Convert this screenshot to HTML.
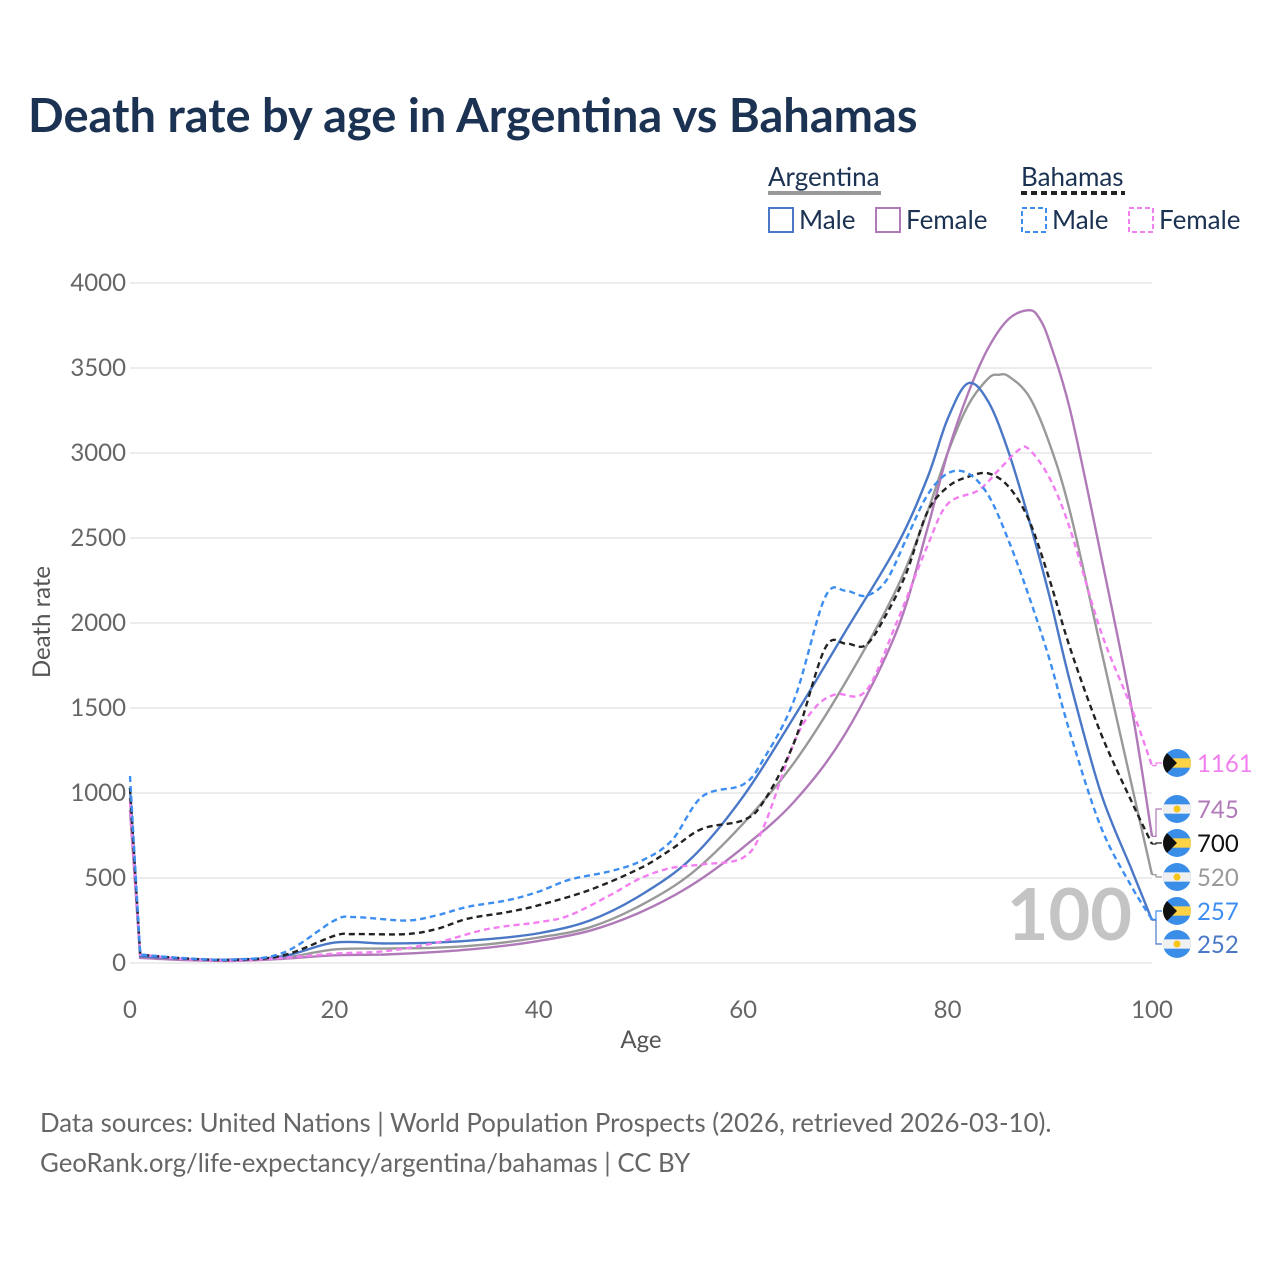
<!DOCTYPE html>
<html><head><meta charset="utf-8"><style>
body{margin:0;background:#fff;font-family:"Liberation Sans",sans-serif}
svg text{font-family:"Lato","Liberation Sans",sans-serif}
</style></head><body>
<svg id="chart" width="1280" height="1280" viewBox="0 0 1280 1280" xmlns="http://www.w3.org/2000/svg">
<rect width="1280" height="1280" fill="#fff"/>
<text x="28" y="132" font-size="47" font-weight="bold" fill="#1b3253">Death rate by age in Argentina vs Bahamas</text>
<g font-size="26" fill="#1b3253">
 <text x="768" y="186" fill="#1b3253">Argentina</text>
 <line x1="768" y1="193" x2="881" y2="193" stroke="#999" stroke-width="4"/>
 <text x="1021" y="186" fill="#1b3253">Bahamas</text>
 <line x1="1021" y1="193" x2="1125" y2="193" stroke="#222" stroke-width="4" stroke-dasharray="6,4"/>
 <g><rect x="769" y="208" width="24" height="24" fill="none" stroke="#4a78c6" stroke-width="2"/><text x="799" y="229">Male</text></g>
 <g><rect x="876" y="208" width="24" height="24" fill="none" stroke="#b07ab8" stroke-width="2"/><text x="906" y="229">Female</text></g>
 <g><rect x="1022" y="208" width="24" height="24" fill="none" stroke="#3d8ef0" stroke-width="2" stroke-dasharray="5,3"/><text x="1052" y="229">Male</text></g>
 <g><rect x="1129" y="208" width="24" height="24" fill="none" stroke="#f27ef0" stroke-width="2" stroke-dasharray="5,3"/><text x="1159" y="229">Female</text></g>
</g>
<g id="grid"></g>
<text x="1132" y="940" font-size="72" font-weight="bold" fill="#c4c4c4" text-anchor="end">100</text>
<g id="lines"></g>
<g id="labels"></g>
<text transform="translate(50,622) rotate(-90)" font-size="24" fill="#555" text-anchor="middle">Death rate</text>
<text x="641" y="1048" font-size="24" fill="#555" text-anchor="middle">Age</text>
<text x="40" y="1132" font-size="25.8" fill="#666">Data sources: United Nations | World Population Prospects (2026, retrieved 2026-03-10).</text>
<text x="40" y="1172" font-size="25.8" fill="#666">GeoRank.org/life-expectancy/argentina/bahamas | CC BY</text>
</svg>
<script>
const yTicks=[0,500,1000,1500,2000,2500,3000,3500,4000];
const xTicks=[0,20,40,60,80,100];
const argMaleAges=[0,1,5,10,15,20,25,30,35,40,45,50,55,60,65,70,75,78,80,82,84,86,88,90,92,95,98,100];
const argMaleVals=[1030,40,25,20,40,120,115,120,140,175,250,400,620,980,1450,1950,2450,2850,3200,3410,3300,3000,2600,2150,1650,1000,550,252];
const argFemaleAges=[0,1,5,10,15,20,25,30,35,40,45,50,55,60,65,70,75,78,80,82,84,86,88,89,90,92,95,98,100];
const argFemaleVals=[900,30,18,12,25,45,50,65,90,130,190,300,460,680,950,1350,1950,2550,3000,3350,3620,3790,3840,3790,3650,3250,2400,1500,745];
const argTotalAges=[0,1,5,10,15,20,25,30,35,40,45,50,55,60,65,70,75,78,80,82,84,85,86,88,90,92,95,98,100];
const argTotalVals=[970,35,22,15,30,80,85,90,110,150,210,340,530,820,1180,1650,2200,2650,3000,3280,3440,3460,3450,3330,3050,2650,1850,1050,520];
const bahMaleAges=[0,1,5,10,15,20,22,27,30,33,37,40,43,47,50,53,56,60,62,65,68,70,72,74,76,78,80,82,84,86,88,90,92,95,98,100];
const bahMaleVals=[1100,50,30,20,60,250,270,250,280,330,370,420,490,540,600,720,980,1050,1200,1550,2150,2190,2160,2250,2500,2750,2880,2880,2750,2480,2150,1780,1350,800,450,257];
const bahFemaleAges=[0,1,5,10,15,20,25,30,35,40,43,47,50,53,56,60,62,65,67,69,72,75,78,80,83,85,87,88,90,92,95,98,100];
const bahFemaleVals=[950,50,25,15,30,55,70,120,200,240,280,400,500,560,580,620,800,1300,1500,1580,1600,2000,2450,2700,2780,2900,3020,3020,2850,2550,1950,1500,1161];
const bahTotalAges=[0,1,5,10,15,20,22,27,30,33,37,40,45,50,53,56,60,62,65,68,70,72,74,76,78,80,82,84,86,88,90,92,95,98,100];
const bahTotalVals=[1030,50,28,18,45,160,170,170,200,260,300,340,430,560,670,790,840,950,1300,1850,1880,1870,2050,2300,2650,2800,2860,2880,2800,2600,2250,1850,1350,950,700];

const NS="http://www.w3.org/2000/svg";
const X=a=>130+a*10.22, Y=v=>963-v*0.17;
function mk(t,at,p){const e=document.createElementNS(NS,t);for(const k in at)e.setAttribute(k,at[k]);p.appendChild(e);return e;}
const grid=document.getElementById('grid');
yTicks.forEach(v=>{
 const l=mk('line',{x1:130,x2:1152,y1:Y(v),y2:Y(v),stroke:'#e6e6e6','stroke-width':1.5},grid);
 
 
 const t=mk('text',{x:126,y:Y(v)+8,'font-size':24,fill:'#666','text-anchor':'end'},grid);t.textContent=v;
 
 
});
xTicks.forEach(a=>{
 const t=mk('text',{x:X(a),y:1018,'font-size':24,fill:'#666','text-anchor':'middle'},grid);t.textContent=a;
 
 
});
function path(ages,vals){
 const p=ages.map((a,i)=>[X(a),Y(vals[i])]);
 let d=`M${p[0][0]},${p[0][1]} L${p[1][0]},${p[1][1]}`;
 for(let i=1;i<p.length-1;i++){
  const p0=p[i-1===0?1:i-1],p1=p[i],p2=p[i+1],p3=p[Math.min(i+2,p.length-1)];
  const c1=[p1[0]+(p2[0]-p0[0])/6,p1[1]+(p2[1]-p0[1])/6];
  const c2=[p2[0]-(p3[0]-p1[0])/6,p2[1]-(p3[1]-p1[1])/6];
  d+=` C${c1[0]},${c1[1]} ${c2[0]},${c2[1]} ${p2[0]},${p2[1]}`;
 }
 return d;
}
const series=[
 {n:'argentina-total',a:argTotalAges,v:argTotalVals,c:'#999',dash:null,ly:877,flag:'arg'},
 {n:'argentina-female',a:argFemaleAges,v:argFemaleVals,c:'#b07ab8',dash:null,ly:809,flag:'arg'},
 {n:'argentina-male',a:argMaleAges,v:argMaleVals,c:'#4a78c6',dash:null,ly:944,flag:'arg'},
 {n:'bahamas-female',a:bahFemaleAges,v:bahFemaleVals,c:'#f27ef0',dash:'6,4',ly:763,flag:'bah'},
 {n:'bahamas-total',a:bahTotalAges,v:bahTotalVals,c:'#222',dash:'6,4',ly:843,flag:'bah'},
 {n:'bahamas-male',a:bahMaleAges,v:bahMaleVals,c:'#3d8ef0',dash:'6,4',ly:911,flag:'bah'},
];
const lines=document.getElementById('lines'),labels=document.getElementById('labels');
series.forEach(s=>{
 const at={d:path(s.a,s.v),fill:'none',stroke:s.c,'stroke-width':2.4};
 if(s.dash)at['stroke-dasharray']=s.dash;
 const e=mk('path',at,lines);
 
 
 const last=s.v[s.v.length-1],ey=Y(last);
 const con=mk('polyline',{points:`1152,${ey} 1156,${ey} 1156,${s.ly} 1162,${s.ly}`,fill:'none',stroke:s.c,'stroke-width':1.2},labels);
 
 
 const g=mk('g',{},labels);
 
 
 const cx=1177,cy=s.ly,r=14;
 const cp='cp'+s.n;
 const clip=mk('clipPath',{id:cp},g);mk('circle',{cx,cy,r},clip);
 const gg=mk('g',{'clip-path':`url(#${cp})`},g);
 mk('rect',{x:cx-r,y:cy-r,width:2*r,height:2*r,fill:'#3b8ee8'},gg);
 if(s.flag==='arg'){
  mk('rect',{x:cx-r,y:cy-r/3,width:2*r,height:2*r/3,fill:'#f0f0f0'},gg);
  mk('circle',{cx,cy,r:3.5,fill:'#f5c518'},gg);
 } else {
  mk('rect',{x:cx-r,y:cy-r/3,width:2*r,height:2*r/3,fill:'#fdd244'},gg);
  mk('polygon',{points:`${cx-r},${cy-r} ${cx},${cy} ${cx-r},${cy+r}`,fill:'#111'},gg);
 }
 const t=mk('text',{x:1197,y:s.ly+9,'font-size':24,fill:s.c==='#222'?'#111':s.c},labels);
 t.textContent=last;
 
 
});
</script>
</body></html>
